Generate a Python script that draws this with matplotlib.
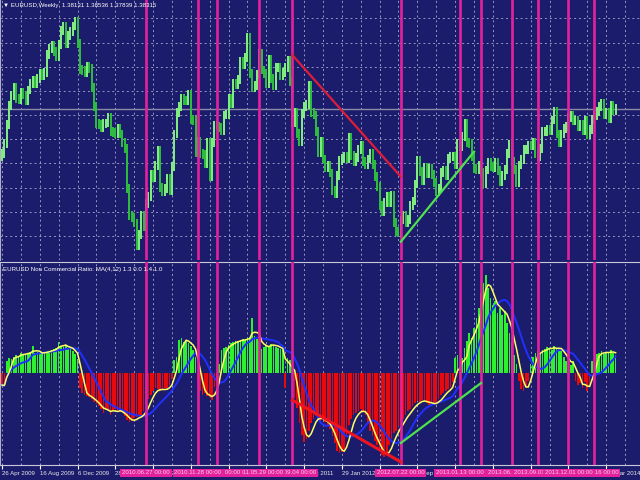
import numpy as np
import pandas as pd
import matplotlib
matplotlib.use('Agg')
import matplotlib.pyplot as plt
import matplotlib.transforms as mtransforms

plt.rcParams['font.family'] = ['Liberation Sans', 'DejaVu Sans']

# weekly EURUSD closes, first bar = week of 26 Apr 2009
start = pd.Timestamp('2009-04-26')
first_open = 1.3180
closes = [
    1.3230, 1.3360, 1.3620, 1.3880, 1.4010, 1.4130, 1.3970, 1.3960, 1.4050, 1.4020,
    1.3950, 1.4090, 1.4180, 1.4220, 1.4170, 1.4250, 1.4310, 1.4290, 1.4330, 1.4570,
    1.4650, 1.4690, 1.4610, 1.4550, 1.4710, 1.4900, 1.4960, 1.4720, 1.4830, 1.4890,
    1.4960, 1.5020, 1.4720, 1.4370, 1.4350, 1.4330, 1.4410, 1.4380, 1.4120, 1.3870,
    1.3630, 1.3620, 1.3580, 1.3630, 1.3640, 1.3720, 1.3530, 1.3510, 1.3500, 1.3570,
    1.3490, 1.3380, 1.3290, 1.2750, 1.2380, 1.2360, 1.2280, 1.1970, 1.2120, 1.2380,
    1.2230, 1.2540, 1.2640, 1.2940, 1.2900, 1.3060, 1.3270, 1.2760, 1.2710, 1.2750,
    1.2890, 1.2720, 1.3050, 1.3490, 1.3780, 1.3870, 1.3970, 1.3950, 1.3940, 1.4030,
    1.3690, 1.3670, 1.3240, 1.3390, 1.3230, 1.3210, 1.3090, 1.3380, 1.2910, 1.3370,
    1.3610, 1.3600, 1.3580, 1.3540, 1.3750, 1.3760, 1.3980, 1.3900, 1.4180, 1.4160,
    1.4230, 1.4480, 1.4430, 1.4530, 1.4810, 1.4310, 1.4120, 1.4150, 1.4300, 1.4590,
    1.4360, 1.4310, 1.4180, 1.4510, 1.4250, 1.4150, 1.4390, 1.4400, 1.4280, 1.4330,
    1.4390, 1.4490, 1.4210, 1.3650, 1.3790, 1.3500, 1.3390, 1.3770, 1.3860, 1.3890,
    1.4150, 1.3780, 1.3750, 1.3520, 1.3240, 1.3390, 1.3150, 1.3040, 1.3070, 1.2960,
    1.2720, 1.2680, 1.2930, 1.3130, 1.3160, 1.3190, 1.3150, 1.3450, 1.3200, 1.3120,
    1.3170, 1.3280, 1.3340, 1.3120, 1.3080, 1.3150, 1.3230, 1.3080, 1.2910, 1.2780,
    1.2520, 1.2430, 1.2560, 1.2640, 1.2560, 1.2660, 1.2290, 1.2160, 1.2150, 1.2320,
    1.2380, 1.2290, 1.2330, 1.2520, 1.2580, 1.2810, 1.3130, 1.2980, 1.2860, 1.3040,
    1.2950, 1.3020, 1.2940, 1.2830, 1.2710, 1.2750, 1.2970, 1.2990, 1.2920, 1.3160,
    1.3180, 1.3190, 1.3070, 1.3360, 1.3320, 1.3460, 1.3640, 1.3370, 1.3360, 1.3190,
    1.3020, 1.3000, 1.3070, 1.2970, 1.2820, 1.3000, 1.3110, 1.3050, 1.3030, 1.3110,
    1.2990, 1.2840, 1.2930, 1.3010, 1.3220, 1.3350, 1.3120, 1.3010, 1.2830, 1.3070,
    1.3140, 1.3280, 1.3280, 1.3340, 1.3330, 1.3370, 1.3220, 1.3180, 1.3290, 1.3520,
    1.3520, 1.3550, 1.3540, 1.3680, 1.3800, 1.3490, 1.3370, 1.3490, 1.3560, 1.3590,
    1.3710, 1.3750, 1.3670, 1.3680, 1.3590, 1.3620, 1.3540, 1.3680, 1.3480, 1.3550,
    1.3690, 1.3740, 1.3800, 1.3870, 1.3910, 1.3760, 1.3790, 1.3700, 1.3880, 1.3810, 1.3832,
]

# non commercial ratio histogram (indicator units)
ratio = [
    -1.2, -1.3, 1.2, 1.5, 1.4, 1.6, 1.8, 1.7, 2.0, 1.9,
    1.9, 2.0, 2.1, 2.7, 2.0, 2.1, 1.9, 2.0, 2.1, 2.2,
    2.2, 2.3, 2.4, 2.5, 3.1, 2.7, 2.6, 2.8, 2.5, 2.4,
    2.2, 1.9, 1.4, -1.5, -2.0, -2.2, -2.3, -2.4, -2.6, -2.9,
    -3.1, -3.3, -3.6, -4.0, -3.5, -3.7, -4.2, -3.7, -3.6, -3.9,
    -3.9, -4.0, -4.3, -4.7, -4.9, -4.8, -4.5, -4.4, -4.3, -4.4,
    -3.8, -3.2, -2.6, -2.2, -1.8, -1.5, -1.6, -1.8, -1.7, -1.5,
    -1.5, -1.2, -0.6, 1.3, 1.6, 3.3, 3.5, 3.1, 3.2, 3.0,
    2.7, 2.3, 1.6, -0.8, -1.8, -2.2, -2.0, -2.3, -2.4, -2.7,
    -1.4, -0.6, 0.9, 2.3, 2.5, 2.6, 2.8, 3.0, 3.1, 3.2,
    3.2, 3.3, 3.4, 3.3, 3.5, 3.6, 5.5, 3.7, 3.4, 3.2,
    2.4, 2.6, 2.8, 2.7, 2.9, 2.8, 2.6, 2.5, 2.4, 2.3,
    -1.5, 1.5, 1.3, 0.8, -2.5, -3.5, -5.0, -6.2, -6.9, -6.6,
    -5.8, -5.0, -4.6, -4.3, -4.5, -4.8, -4.6, -4.9, -5.2, -5.6,
    -6.3, -7.0, -7.8, -8.0, -7.9, -7.6, -6.2, -5.2, -4.6, -4.2,
    -4.0, -3.8, -3.6, -3.9, -4.2, -5.0, -5.8, -6.3, -6.8, -7.2,
    -7.8, -8.2, -8.4, -8.0, -7.2, -6.6, -6.0, -5.8, -5.3, -4.8,
    -4.6, -4.2, -3.8, -3.6, -3.3, -3.0, -2.8, -2.9, -2.7, -2.8,
    -3.0, -3.2, -2.9, -3.1, -3.0, -2.6, -2.2, -2.0, -1.8, -1.6,
    -1.4, -0.9, 1.5, 1.8, -0.6, 1.5, 2.5, 3.2, 4.0, 3.5,
    4.5, 5.5, 6.5, 8.0, 9.0, 9.8, 8.5, 7.5, 6.8, 7.2,
    6.0, 6.5, 5.8, 6.2, 5.0, 4.0, 3.0, 1.8, 0.9, -0.8,
    -1.6, -1.8, -1.4, -0.8, 0.9, 1.6, 2.0, 2.2, 2.0, 2.3,
    2.4, 2.6, 2.5, 2.3, 2.7, 2.4, 2.5, 2.2, 1.6, 1.2,
    1.0, 0.8, 1.2, -0.8, -1.2, -1.0, -1.5, -0.9, -1.8, -1.2,
    1.2, 1.6, 1.9, 2.0, 2.2, 1.9, 2.1, 2.0, 2.3, 2.0, 1.8,
]

time_labels = ['26 Apr 2009', '16 Aug 2009', '6 Dec 2009', '28 Mar 2010', '18 Jul 2010',
               '7 Nov 2010', '27 Feb 2011', '19 Jun 2011', '9 Oct 2011', '29 Jan 2012',
               '20 May 2012', '9 Sep 2012', '30 Dec 2012', '21 Apr 2013', '11 Aug 2013',
               '1 Dec 2013', '23 Mar 2014']

line_dates = ['2010.06.27', '2010.11.28', '2011.01.23', '2011.05.29', '2011.09.04', '2012.07.22',
              '2013.01.13', '2013.03.17', '2013.06.16', '2013.09.01', '2013.12.01', '2014.02.16']
line_layer = [12, 11, 10, 9, 8, 7, 6, 1, 2, 3, 4, 0]

# trend lines: (date, value) anchors
price_down = [('2011-09-04', 1.4565), ('2012-07-22', 1.2910)]
price_up = [('2012-07-22', 1.2026), ('2013-02-24', 1.3250)]
ratio_down = [('2011-09-04', -2.7), ('2012-07-22', -8.9)]
ratio_up = [('2012-07-22', -7.0), ('2013-03-17', -1.0)]

bg = '#1c1c6c'
gridc = '#9898c0'
magenta = '#e3219c'
fs = 4.4

def week_of(d):
    return (pd.Timestamp(d.replace('.', '-')) - start).days / 7.0

weeks = np.arange(len(closes))
closes = np.array(closes)
opens = np.concatenate([[first_open], closes[:-1]])
wick = 0.006
lows = np.minimum(opens, closes) - wick
highs = np.maximum(opens, closes) + wick
up = closes >= opens

ratio = pd.Series(ratio)
fast = ratio.rolling(4, min_periods=1).mean()
slow = ratio.rolling(12, min_periods=1).mean()

fig = plt.figure(figsize=(6.4, 4.8), dpi=100)
fig.patch.set_facecolor(bg)
ax1 = fig.add_axes([0, 220 / 480, 1, 260 / 480])
ax2 = fig.add_axes([0, 15 / 480, 1, 203 / 480])

xlim = (-2 / 2.36, 638 / 2.36)
for ax in (ax1, ax2):
    ax.set_facecolor(bg)
    ax.set_xlim(*xlim)
    for w in range(0, 270, 8):
        ax.axvline(w, color=gridc, lw=0.7, ls=(0, (2, 3)), zorder=0)
    for d in line_dates:
        ax.axvline(week_of(d), color=magenta, lw=1.9, zorder=3)
    for s in ax.spines.values():
        s.set_visible(False)
    ax.spines['left'].set_visible(True)
    ax.spines['left'].set_color('#b0b0c8')

# price panel
ax1.set_ylim(1.1777, 1.5313)
for k in range(-1, 10):
    ax1.axhline(1.2103 + 0.0329 * k, color=gridc, lw=0.7, ls=(0, (2, 3)), zorder=0)
ax1.axhline(closes[-1], color='#8a8aa8', lw=1, zorder=1)
ax1.vlines(weeks[up], lows[up], highs[up], color='#84f084', lw=1.4, zorder=2)
ax1.vlines(weeks[~up], lows[~up], highs[~up], color='#2fbf3f', lw=1.4, zorder=2)
ax1.plot([week_of(d) for d, v in price_down], [v for d, v in price_down], color='#dd1d3a', lw=1.6, zorder=4)
ax1.plot([week_of(d) for d, v in price_up], [v for d, v in price_up], color='#4ee24e', lw=1.6, zorder=4)
ax1.set_xticks([])
ax1.set_yticks([])
ax1.text(3 / 640, 1 - 6 / 260, '\u25bc EURUSD,Weekly  1.38131 1.38536 1.37839 1.38315',
         transform=ax1.transAxes, color='white', fontsize=fs, va='center', ha='left')

# indicator panel
ax2.set_ylim(-9.2, 11.1)
ax2.spines['top'].set_visible(True)
ax2.spines['top'].set_color('#c8c8d8')
ax2.spines['bottom'].set_visible(True)
ax2.spines['bottom'].set_color('#c8c8d8')
colors = ['#2ef02e' if v > 0 else '#e80a0a' for v in ratio]
ax2.bar(weeks, ratio, width=0.7, color=colors, zorder=1)
ax2.plot(weeks, slow, color='#2030ff', lw=1.4, zorder=2)
ax2.plot(weeks, fast, color='#ffff60', lw=1.1, zorder=2)
ax2.plot([week_of(d) for d, v in ratio_down], [v for d, v in ratio_down], color='#ee1520', lw=2.2, zorder=4)
ax2.plot([week_of(d) for d, v in ratio_up], [v for d, v in ratio_up], color='#4ee24e', lw=1.6, zorder=4)
ax2.set_yticks([])
ax2.text(3 / 640, 1 - 8 / 203, 'EURUSD Non Commercial Ratio: MA(4,12) 1.3 0.0 1.4 1.0',
         transform=ax2.transAxes, color='white', fontsize=fs, va='center', ha='left')

ax2.set_xticks(range(0, 16 * len(time_labels), 16))
ax2.set_xticklabels(time_labels, ha='left')
ax2.tick_params(axis='x', colors='white', labelcolor='#e8e8e8', length=3, labelsize=fs, pad=1.5)

trans = mtransforms.blended_transform_factory(ax2.transData, ax2.transAxes)
for d, layer in zip(line_dates, line_layer):
    ax2.text(week_of(d), -8 / 203, d + ' 00:00', transform=trans, ha='center', va='center',
             fontsize=fs, color='#f6d2ea', clip_on=False, zorder=10 + layer,
             bbox=dict(boxstyle='square,pad=0.3', fc=magenta, ec='none'))

plt.savefig('out.png', dpi=100, facecolor=bg)
